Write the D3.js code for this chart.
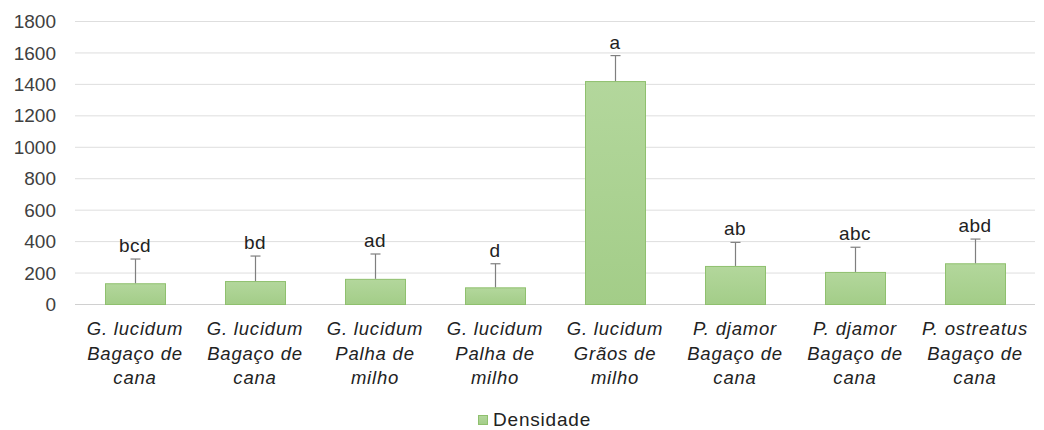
<!DOCTYPE html>
<html><head><meta charset="utf-8">
<script src="https://cdn.jsdelivr.net/npm/d3@7"></script>
<style>body{margin:0;background:#fff}svg{display:block}text{font-family:"Liberation Sans",Arial,sans-serif}</style>
</head><body><svg id="c" width="1044" height="430"></svg>
<script>
const speciesLabels = ["G. lucidum","G. lucidum","G. lucidum","G. lucidum","G. lucidum","P. djamor","P. djamor","P. ostreatus"];
const substrateLabels = [["Bagaço de","cana"],["Bagaço de","cana"],["Palha de","milho"],["Palha de","milho"],["Grãos de","milho"],["Bagaço de","cana"],["Bagaço de","cana"],["Bagaço de","cana"]];
const densidade = [132, 146, 160, 106, 1418, 242, 204, 259];
const errors = [154, 159, 158, 150, 162, 150, 157, 154];
const letters = ["bcd","bd","ad","d","a","ab","abc","abd"];
const yTicks = [0,200,400,600,800,1000,1200,1400,1600,1800];
const seriesName = "Densidade";

const svg = d3.select("#c");
const plotL = 75, plotR = 1035, plotT = 21, plotB = 304;
const idx = d3.range(densidade.length);
const x = d3.scaleBand().domain(idx).range([plotL, plotR]).paddingInner(0.5).paddingOuter(0.25);
const y = d3.scaleLinear().domain([0, 1800]).range([plotB, plotT]);

const defs = svg.append("defs");
const g = defs.append("linearGradient").attr("id","gr").attr("x1",0).attr("y1",0).attr("x2",0).attr("y2",1);
g.append("stop").attr("offset","0%").attr("stop-color","#b3d79c");
g.append("stop").attr("offset","100%").attr("stop-color","#a3cd88");

// gridlines
svg.append("g").selectAll("line").data(yTicks).join("line")
  .attr("x1", plotL).attr("x2", plotR)
  .attr("y1", d => y(d)+0.5).attr("y2", d => y(d)+0.5)
  .attr("stroke", d => d===0 ? "#d0d0d0" : "#dedede").attr("stroke-width", 1);

// y axis labels
const yAxis = d3.axisLeft(y).tickValues(yTicks).tickSize(0).tickPadding(0).tickFormat(d3.format("d"));
const ya = svg.append("g").attr("transform", `translate(56,0)`).call(yAxis);
ya.select(".domain").remove();
ya.selectAll("text").attr("font-size", 19).attr("fill", "#404040").attr("font-family","Liberation Sans, Arial, sans-serif").attr("dy","0.35em");

// bars
svg.append("g").selectAll("rect").data(idx).join("rect")
  .attr("x", i => x(i)+0.5).attr("width", x.bandwidth())
  .attr("y", i => y(densidade[i])+0.5).attr("height", i => y(0) - y(densidade[i]))
  .attr("fill", "url(#gr)").attr("stroke", "#8fc06e").attr("stroke-width", 1);

// error bars
const eb = svg.append("g").attr("stroke", "#7f7f7f").attr("stroke-width", 1.2);
idx.forEach(i => {
  const cx = Math.round(x(i) + x.bandwidth()/2) + 0.5;
  eb.append("line").attr("x1", cx).attr("x2", cx).attr("y1", y(densidade[i])).attr("y2", y(densidade[i]+errors[i]));
  eb.append("line").attr("x1", cx-5).attr("x2", cx+5).attr("y1", y(densidade[i]+errors[i])).attr("y2", y(densidade[i]+errors[i]));
});

// letters
svg.append("g").selectAll("text").data(idx).join("text")
  .attr("x", i => x(i) + x.bandwidth()/2)
  .attr("y", i => y(densidade[i]+errors[i]) - 7)
  .attr("text-anchor","middle").attr("font-size", 19).attr("letter-spacing", 0.5).attr("fill","#222")
  .text(i => letters[i]);

// x labels
const xl = svg.append("g");
idx.forEach(i => {
  const t = xl.append("text").attr("x", x(i) + x.bandwidth()/2).attr("text-anchor","middle")
    .attr("font-size", 18.5).attr("letter-spacing", 0.8).attr("font-style","italic").attr("fill","#222");
  const lines = [speciesLabels[i], ...substrateLabels[i]];
  lines.forEach((l, k) => t.append("tspan").attr("x", x(i) + x.bandwidth()/2).attr("y", 335 + k*24.5).text(l));
});

// legend
svg.append("rect").attr("x", 478.5).attr("y", 415.5).attr("width", 9).attr("height", 9)
  .attr("fill", "url(#gr)").attr("stroke", "#8fc06e");
svg.append("text").attr("x", 493).attr("y", 426).attr("font-size", 19).attr("letter-spacing", 0.8).attr("fill","#222").text(seriesName);
</script></body></html>
